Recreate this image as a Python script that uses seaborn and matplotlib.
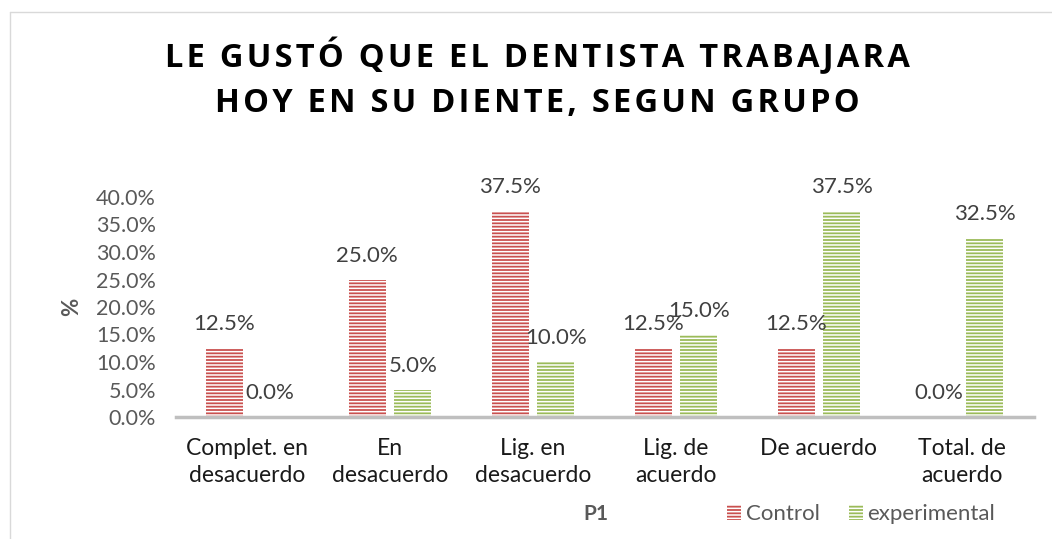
import matplotlib
matplotlib.use('Agg')
import matplotlib.pyplot as plt
import matplotlib.lines as mlines
from matplotlib.patches import Patch
import pandas as pd
import seaborn as sns

# Data
categories = ['Complet. en\ndesacuerdo', 'En\ndesacuerdo', 'Lig. en\ndesacuerdo',
              'Lig. de\nacuerdo', 'De acuerdo', 'Total. de\nacuerdo']
control = [12.5, 25.0, 37.5, 12.5, 12.5, 0.0]
experimental = [0.0, 5.0, 10.0, 15.0, 37.5, 32.5]
groups = ['Control', 'experimental']
yticks = [0, 5, 10, 15, 20, 25, 30, 35, 40]

df = pd.DataFrame({
    'cat': categories * 2,
    'grupo': [groups[0]] * len(categories) + [groups[1]] * len(categories),
    'pct': control + experimental,
})

sns.set_style('white')
plt.rcParams['font.family'] = ['Lato', 'DejaVu Sans']
plt.rcParams['hatch.linewidth'] = 1.1

W, H = 1052, 539
fig = plt.figure(figsize=(W / 100, H / 100), dpi=100)
ax = fig.add_axes([175.5 / W, 1 - 417 / H, 858 / W, 220 / H])

palette = {'Control': '#C9504F', 'experimental': '#9BBB59'}
sns.barplot(data=df, x='cat', y='pct', hue='grupo', order=categories,
            hue_order=groups, palette=palette, width=0.64, gap=0.19,
            saturation=1, edgecolor='white', linewidth=0, hatch='-----',
            ax=ax, legend=False)

# value labels
for cont in ax.containers:
    for bar in cont:
        h = bar.get_height()
        ax.annotate(f'{h:.1f}%', (bar.get_x() + bar.get_width() / 2, h),
                    xytext=(0, 10), textcoords='offset points', ha='center',
                    va='bottom', fontsize=16, color='#404040',
                    annotation_clip=False)

ax.set_ylim(0, 40)
ax.set_xlim(-0.5, len(categories) - 0.5)
ax.set_yticks(yticks)
ax.set_yticklabels([f'{v:.1f}%' for v in yticks], fontsize=15.5, color='#595959')
ax.tick_params(axis='x', labelsize=16.5, labelcolor='#1a1a1a', pad=15, length=0)
ax.tick_params(axis='y', length=0, pad=14)
for lab in ax.get_xticklabels():
    lab.set_linespacing(1.38)
for s in ['top', 'right', 'left']:
    ax.spines[s].set_visible(False)
ax.spines['bottom'].set_color('#BFBFBF')
ax.spines['bottom'].set_linewidth(2.5)

ax.set_xlabel('')
ax.set_ylabel('')
fig.text(72 / W, 1 - 307 / H, '%', rotation=90, ha='center', va='center',
         fontsize=16, fontweight='bold', color='#595959')
fig.text(596 / W, 1 - 514 / H, 'P1', ha='center', va='center',
         fontsize=15, fontweight='bold', color='#595959')

# legend
handles = [Patch(facecolor=palette[g], edgecolor='white', linewidth=0, hatch='-----')
           for g in groups]
fig.legend(handles, groups, loc='center left', bbox_to_anchor=(707 / W, 1 - 514 / H),
           ncol=2, frameon=False, fontsize=16, handlelength=0.65, handleheight=0.65,
           handletextpad=0.2, columnspacing=1.3, labelcolor='#595959')

# title with wide letter spacing
title_lines = ['LE GUSTÓ QUE EL DENTISTA TRABAJARA', 'HOY EN SU DIENTE, SEGUN GRUPO']
title = '\n'.join('\u200a'.join(line) for line in title_lines)
fig.text(537 / W, 1 - 79 / H, title, ha='center', va='center', fontsize=23.5,
         fontweight='bold', color='black', linespacing=1.5,
         family=['Open Sans', 'DejaVu Sans'])

# chart frame (left and top edges visible)
fig.add_artist(mlines.Line2D([10 / W, 10 / W], [0, 1 - 12 / H], color='#D9D9D9', lw=1))
fig.add_artist(mlines.Line2D([10 / W, 1], [1 - 12 / H, 1 - 12 / H], color='#D9D9D9', lw=1))

fig.savefig('out.png', dpi=100)
